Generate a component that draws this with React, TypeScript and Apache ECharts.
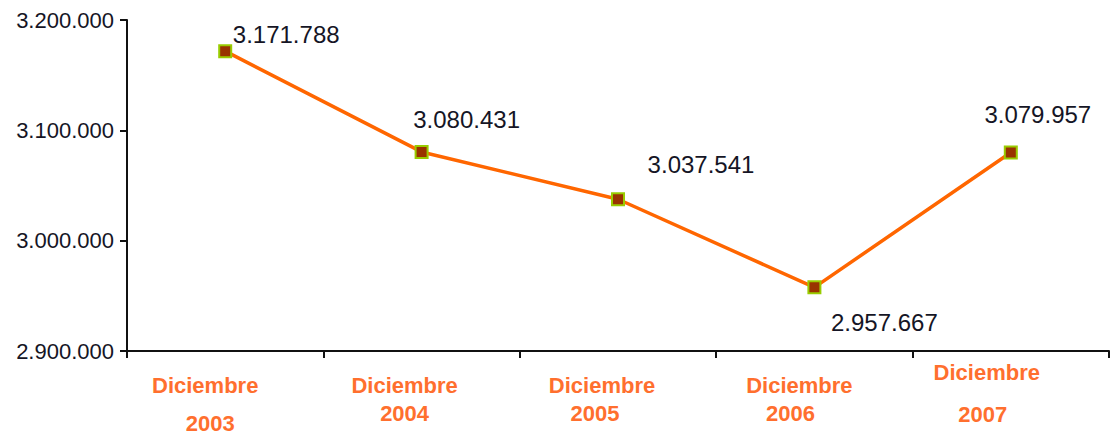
import React, { useEffect, useRef } from "react";
import * as echarts from "echarts";

const categories = ["2003", "2004", "2005", "2006", "2007"];
const categoryPrefix = "Diciembre";
const values = [3171788, 3080431, 3037541, 2957667, 3079957];
const yTicks = [2900000, 3000000, 3100000, 3200000];

const FONT = '"Liberation Sans", Arial, sans-serif';

function fmt(n: number): string {
  return String(Math.round(n)).replace(/\B(?=(\d{3})+(?!\d))/g, ".");
}

// label offsets (pixels) relative to the marker centre
const labelOffsets: [number, number][] = [
  [61, -17],
  [45, -32],
  [83, -35],
  [70, 35],
  [27, -38],
];

// per-category x-axis label tweaks: [line1 shift-left, line2 shift-left, line1 lineHeight, line2 lineHeight]
const xLabelTweaks: [number, number, number, number][] = [
  [20, 15, 28, 48],
  [17, 17, 28, 28],
  [16, 23, 28, 28],
  [15, 24, 28, 28],
  [24, 28, 2, 82],
];

export default function App() {
  const ref = useRef<HTMLDivElement>(null);

  useEffect(() => {
    document.body.style.margin = "0";
    if (!ref.current) return;
    const chart = echarts.init(ref.current, undefined, { renderer: "svg" });

    const rich: Record<string, any> = {};
    xLabelTweaks.forEach(([s1, s2, l1, l2], i) => {
      rich["a" + i] = {
        fontFamily: FONT,
        fontSize: 22,
        fontWeight: "bold",
        color: "#ff6f2e",
        lineHeight: l1,
        padding: [0, s1 * 2, 0, 0],
      };
      rich["b" + i] = {
        fontFamily: FONT,
        fontSize: 22,
        fontWeight: "bold",
        color: "#ff6f2e",
        lineHeight: l2,
        padding: [0, s2 * 2, 0, 0],
      };
    });

    chart.setOption({
      animation: false,
      grid: { left: 127, right: 1, top: 20, bottom: 83, containLabel: false },
      xAxis: {
        type: "category",
        data: categories,
        boundaryGap: true,
        axisLine: { show: true, lineStyle: { color: "#111", width: 2 } },
        axisTick: { show: true, length: 7, lineStyle: { color: "#111", width: 2 } },
        axisLabel: {
          margin: 20,
          interval: 0,
          formatter: (v: string, i: number) =>
            `{a${i}|${categoryPrefix}}\n{b${i}|${v}}`,
          rich,
        },
        splitLine: { show: false },
      },
      yAxis: {
        type: "value",
        min: yTicks[0],
        max: yTicks[yTicks.length - 1],
        interval: yTicks[1] - yTicks[0],
        axisLine: { show: true, lineStyle: { color: "#111", width: 2 } },
        axisTick: { show: true, length: 7, lineStyle: { color: "#111", width: 2 } },
        axisLabel: {
          margin: 13,
          fontFamily: FONT,
          fontSize: 22,
          color: "#151525",
          formatter: (v: number) => fmt(v),
        },
        splitLine: { show: false },
      },
      series: [
        {
          type: "line",
          data: values.map((v, i) => ({
            value: v,
            label: { offset: labelOffsets[i] },
          })),
          symbol: "rect",
          symbolSize: 12,
          itemStyle: { color: "#993300", borderColor: "#99cc00", borderWidth: 2 },
          lineStyle: { color: "#ff6600", width: 3.5 },
          label: {
            show: true,
            position: "inside",
            fontFamily: FONT,
            fontSize: 24,
            color: "#151525",
            formatter: (p: any) => fmt(p.value),
          },
          z: 3,
        },
      ],
    });

    return () => chart.dispose();
  }, []);

  return <div ref={ref} style={{ width: 1110, height: 434 }} />;
}
